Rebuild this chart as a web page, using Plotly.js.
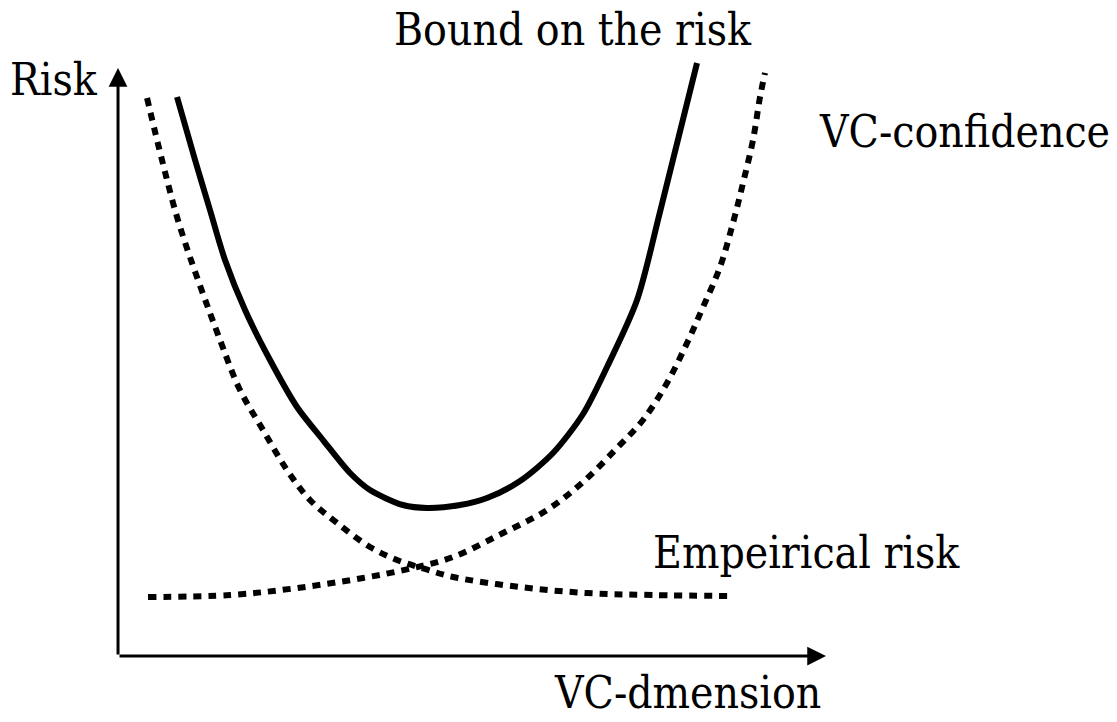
<!DOCTYPE html>
<html>
<head>
<meta charset="utf-8">
<script src="https://cdn.plot.ly/plotly-3.0.1.min.js"></script>
<style>
html,body{margin:0;padding:0;background:#fff;}
#chart{width:1117px;height:722px;}
</style>
</head>
<body>
<div id="chart"></div>
<script>
// VC dimension (x) and risk (y) values
const boundX = [0.833,1.088,1.299,1.511,1.794,2.147,2.528,2.895,3.277,3.559,4.025,4.364,4.831,5.212,5.678,6.144,6.568,6.907,7.331,7.655,8.178];
const boundY = [9.507,8.435,7.585,6.735,5.884,5.034,4.235,3.673,3.112,2.823,2.568,2.517,2.568,2.687,2.976,3.452,4.116,4.915,6.054,7.551,10.085];

const fallingX = [0.410,0.621,0.876,1.441,1.723,2.048,2.387,2.712,3.093,3.559,3.941,4.336,4.732,5.678,6.624,7.556,8.701];
const fallingY = [9.490,8.435,7.296,5.374,4.524,3.844,3.163,2.653,2.262,1.854,1.633,1.480,1.344,1.173,1.071,1.037,1.020];

const risingX = [0.424,1.582,2.528,3.460,4.167,4.732,5.438,6.059,6.568,7.048,7.415,7.754,8.037,8.263,8.503,8.686,8.828,8.969,9.068,9.138];
const risingY = [1.003,1.037,1.156,1.327,1.497,1.684,2.092,2.483,2.959,3.537,4.014,4.643,5.323,5.935,6.616,7.364,8.044,8.776,9.507,9.915];

const labels = ["Risk","Bound on the risk","VC-confidence","Empeirical risk","VC-dmension"];
const labelX = [-0.904, 6.427, 11.949, 9.718, 8.037];
const labelY = [9.796, 10.646, 8.912, 1.769, -0.612];

const axisEndX = 10;
const axisEndY = 10;

const dotted = {color:'#000', width:6, dash:'8px,7px'};

const traces = [
  {x:fallingX, y:fallingY, mode:'lines', line:Object.assign({shape:'spline', smoothing:1}, dotted), hoverinfo:'skip'},
  {x:risingX, y:risingY, mode:'lines', line:Object.assign({shape:'spline', smoothing:1}, dotted), hoverinfo:'skip'},
  {x:boundX, y:boundY, mode:'lines', line:{color:'#000', width:6, shape:'spline', smoothing:0.8}, hoverinfo:'skip'}
];

const font = {family:'"DejaVu Serif Condensed", "DejaVu Serif", serif', size:44, color:'#000'};
const annotations = labels.map((t,i)=>({
  x:labelX[i], y:labelY[i], xref:'x', yref:'y', text:t, showarrow:false,
  xanchor:'center', yanchor:'middle', font:font
}));
annotations.push({x:0, y:axisEndY, ax:0, ay:0, xref:'x', yref:'y', axref:'x', ayref:'y',
  text:'', showarrow:true, arrowhead:2, arrowwidth:3, arrowsize:1.25, arrowcolor:'#000', standoff:0});
annotations.push({x:axisEndX, y:0, ax:0, ay:0, xref:'x', yref:'y', axref:'x', ayref:'y',
  text:'', showarrow:true, arrowhead:2, arrowwidth:3, arrowsize:1.25, arrowcolor:'#000', standoff:0});

const layout = {
  width:1117, height:722,
  margin:{l:0, r:0, t:0, b:0},
  paper_bgcolor:'#fff', plot_bgcolor:'#fff',
  showlegend:false,
  xaxis:{range:[-1.667, 14.110], visible:false, fixedrange:true},
  yaxis:{range:[-1.122, 11.156], visible:false, fixedrange:true},
  annotations:annotations
};

Plotly.newPlot('chart', traces, layout, {staticPlot:true, displayModeBar:false});
</script>
</body>
</html>
